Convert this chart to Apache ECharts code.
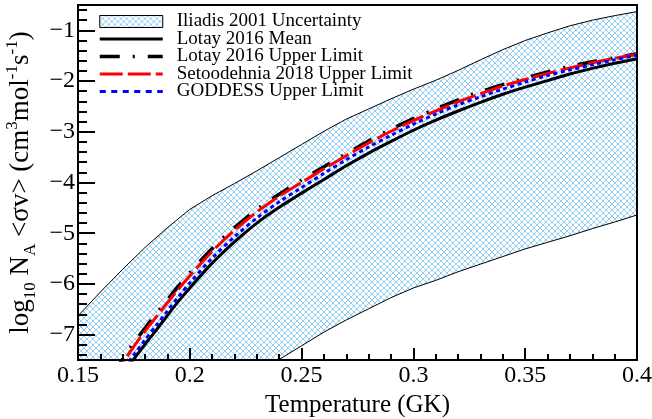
<!DOCTYPE html>
<html><head><meta charset="utf-8">
<script src="https://cdn.jsdelivr.net/npm/echarts@6/dist/echarts.min.js"></script>
<style>html,body{margin:0;padding:0;background:#fff}#c{width:652px;height:419px}</style>
</head><body><div id="c"></div>
<script>
// ---- data ----
const bandT = [0.15,0.16,0.17,0.18,0.19,0.20,0.21,0.22,0.23,0.24,0.25,0.26,0.27,0.28,0.29,0.30,0.31,0.32,0.33,0.34,0.35,0.36,0.37,0.38,0.39,0.40];
const bandUpper = [-6.63,-6.16,-5.71,-5.28,-4.89,-4.53,-4.26,-4.02,-3.77,-3.51,-3.25,-2.99,-2.75,-2.55,-2.35,-2.16,-1.985,-1.79,-1.58,-1.38,-1.20,-1.05,-0.91,-0.80,-0.71,-0.63];
const lowerT = [0.235,0.24,0.25,0.26,0.27,0.28,0.29,0.30,0.31,0.32,0.33,0.34,0.35,0.36,0.37,0.38,0.39,0.40];
const bandLower = [-7.63,-7.49,-7.22,-6.95,-6.71,-6.49,-6.27,-6.08,-5.93,-5.76,-5.61,-5.46,-5.31,-5.18,-5.05,-4.91,-4.78,-4.64];

const curveT = [0.165,0.17,0.175,0.18,0.185,0.19,0.195,0.20,0.21,0.22,0.23,0.24,0.25,0.26,0.27,0.28,0.29,0.30,0.31,0.32,0.33,0.34,0.35,0.36,0.37,0.38,0.39,0.40];
const lotayMean = [-8.12,-7.80,-7.48,-7.19,-6.91,-6.62,-6.34,-6.08,-5.59,-5.17,-4.80,-4.49,-4.21,-3.94,-3.67,-3.42,-3.19,-2.97,-2.77,-2.59,-2.42,-2.26,-2.12,-1.99,-1.86,-1.75,-1.65,-1.56];
const lotayUpper = [-7.80,-7.48,-7.16,-6.87,-6.59,-6.31,-6.04,-5.78,-5.30,-4.89,-4.53,-4.23,-3.95,-3.69,-3.43,-3.18,-2.95,-2.74,-2.55,-2.37,-2.21,-2.07,-1.94,-1.82,-1.71,-1.62,-1.54,-1.46];
const setoodehniaUpper = [-7.88,-7.56,-7.23,-6.93,-6.65,-6.37,-6.10,-5.84,-5.36,-4.94,-4.58,-4.27,-4.00,-3.73,-3.47,-3.22,-2.99,-2.78,-2.59,-2.41,-2.25,-2.10,-1.97,-1.85,-1.74,-1.64,-1.55,-1.47];
const goddessUpper = [-8.02,-7.70,-7.40,-7.10,-6.82,-6.53,-6.25,-5.98,-5.49,-5.07,-4.70,-4.38,-4.10,-3.82,-3.55,-3.30,-3.07,-2.85,-2.65,-2.47,-2.31,-2.16,-2.02,-1.89,-1.78,-1.68,-1.58,-1.49];

const seriesNames = ['Iliadis 2001 Uncertainty','Lotay 2016 Mean','Lotay 2016 Upper Limit','Setoodehnia 2018 Upper Limit','GODDESS Upper Limit'];
const yMajorTicks = [-7,-6,-5,-4,-3,-2,-1];
const yMinorTicks = [-7.4,-7.2,-6.8,-6.6,-6.4,-6.2,-5.8,-5.6,-5.4,-5.2,-4.8,-4.6,-4.4,-4.2,-3.8,-3.6,-3.4,-3.2,-2.8,-2.6,-2.4,-2.2,-1.8,-1.6,-1.4,-1.2,-0.8,-0.6];

// ---- helpers ----
const zip = (xs, ys) => xs.map((x, i) => [x, ys[i]]);
function makeHatch() {
  const s = 6;
  const c = document.createElement('canvas'); c.width = s; c.height = s;
  const g = c.getContext('2d');
  g.fillStyle = '#ffffff'; g.fillRect(0, 0, s, s);
  g.strokeStyle = '#93cdf3'; g.lineWidth = 1;
  g.beginPath();
  g.moveTo(-1, -1); g.lineTo(s + 1, s + 1);
  g.moveTo(s + 1, -1); g.lineTo(-1, s + 1);
  g.stroke();
  return c;
}
const hatch = { image: makeHatch(), repeat: 'repeat' };
const serif = '"Liberation Serif","Times New Roman",serif';
const black = '#000';
const noSym = { color: 'rgba(0,0,0,0)', borderWidth: 0 };

const chart = echarts.init(document.getElementById('c'), null, { renderer: 'canvas' });
const option = {
  animation: false,
  backgroundColor: '#fff',
  grid: { left: 78, right: 15, top: 5, bottom: 59, outerBoundsMode: 'none', containLabel: false,
    show: true, borderColor: black, borderWidth: 2, backgroundColor: 'transparent', z: 5 },
  xAxis: {
    type: 'value', min: 0.15, max: 0.4, interval: 0.05, z: 6,
    axisLine: { lineStyle: { color: black, width: 2 } },
    axisTick: { inside: true, length: 12, lineStyle: { color: black, width: 2 } },
    minorTick: { show: true, splitNumber: 5, length: 6, lineStyle: { color: black, width: 2 } },
    axisLabel: { color: black, fontFamily: serif, fontSize: 24, margin: 4, formatter: v => String(+v.toFixed(2)) },
    splitLine: { show: false },
    name: 'Temperature (GK)', nameLocation: 'middle', nameGap: 31,
    nameTextStyle: { color: black, fontFamily: serif, fontSize: 25 }
  },
  yAxis: [{
    type: 'value', min: -7.5, max: -0.5, position: 'left', z: 6,
    axisLine: { show: true, lineStyle: { color: black, width: 2 } },
    axisTick: { inside: true, length: 17, customValues: yMajorTicks, lineStyle: { color: black, width: 2 } },
    axisLabel: { customValues: yMajorTicks, color: black, fontFamily: serif, fontSize: 24, margin: 3,
      formatter: v => String(v).replace('-', '\u2212') },
    splitLine: { show: false },
    name: '{n|log}{b|10}{n| N}{b|A}{n| <σv> (cm}{t|3}{n|mol}{t|-1}{n|s}{t|-1}{n|)}',
    nameLocation: 'middle', nameRotate: 90, nameGap: 37,
    nameTextStyle: {
      color: black, fontFamily: serif, fontSize: 27,
      rich: {
        n: { fontSize: 27, fontFamily: serif, color: black, lineHeight: 35 },
        b: { fontSize: 17, fontFamily: serif, color: black, lineHeight: 17, verticalAlign: 'bottom' },
        t: { fontSize: 17, fontFamily: serif, color: black, lineHeight: 17, verticalAlign: 'top' }
      }
    }
  }, {
    type: 'value', min: -7.5, max: -0.5, position: 'left', z: 6,
    axisLine: { show: false },
    axisTick: { inside: true, length: 9, customValues: yMinorTicks, lineStyle: { color: black, width: 2 } },
    axisLabel: { show: false },
    splitLine: { show: false }
  }],
  legend: {
    left: 98, top: 12, orient: 'vertical', padding: 0,
    itemWidth: 63, itemHeight: 12, itemGap: -1.5,
    textStyle: { fontFamily: serif, fontSize: 19, color: black, lineHeight: 14, padding: [0, 0, 0, 9] },
    data: [
      { name: seriesNames[0], icon: 'rect', itemStyle: { color: hatch, borderColor: black, borderWidth: 1 } },
      { name: seriesNames[1], lineStyle: { width: 3 }, itemStyle: noSym },
      { name: seriesNames[2], lineStyle: { width: 3.5 }, itemStyle: noSym },
      { name: seriesNames[3], lineStyle: { width: 3 }, itemStyle: noSym },
      { name: seriesNames[4], lineStyle: { width: 3, type: [6, 5.5] }, itemStyle: noSym }
    ]
  },
  series: [
    { name: seriesNames[0], type: 'line', data: zip(bandT, bandUpper), symbol: 'none', z: 1,
      itemStyle: { color: '#93cdf3' },
      lineStyle: { color: black, width: 1 }, areaStyle: { color: hatch, opacity: 1, origin: 'start' } },
    { name: 'band lower edge', type: 'line', data: zip(lowerT, bandLower), symbol: 'none', z: 1, silent: true,
      lineStyle: { color: black, width: 1 }, areaStyle: { color: '#fff', opacity: 1, origin: 'start' } },
    { name: seriesNames[1], type: 'line', data: zip(curveT, lotayMean), symbol: 'none', smooth: 0.3, z: 2,
      itemStyle: { color: black }, lineStyle: { color: black, width: 3 } },
    { name: seriesNames[2], type: 'line', data: zip(curveT, lotayUpper), symbol: 'none', smooth: 0.3, z: 2,
      itemStyle: { color: black }, lineStyle: { color: black, width: 3.5, type: [20, 13, 2, 13] } },
    { name: seriesNames[3], type: 'line', data: zip(curveT, setoodehniaUpper), symbol: 'none', smooth: 0.3, z: 2,
      itemStyle: { color: '#ff0000' }, lineStyle: { color: '#ff0000', width: 3, type: [23, 5] } },
    { name: seriesNames[4], type: 'line', data: zip(curveT, goddessUpper), symbol: 'none', smooth: 0.3, z: 2,
      itemStyle: { color: '#0000ff' }, lineStyle: { color: '#0000ff', width: 3, type: [4, 3.5] } }
  ]
};
chart.setOption(option);
</script>
</body></html>
